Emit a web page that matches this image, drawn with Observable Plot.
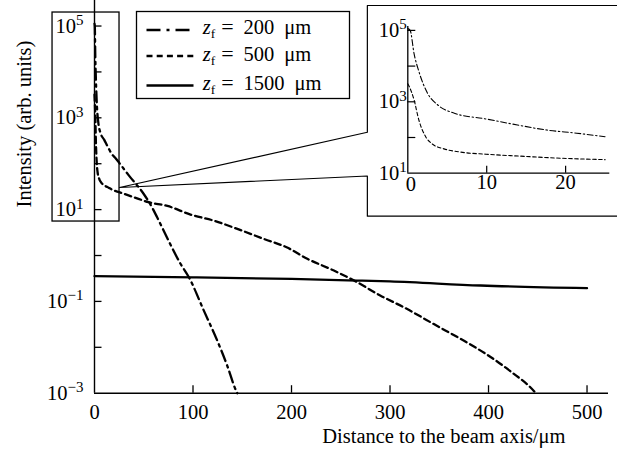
<!DOCTYPE html>
<html><head><meta charset="utf-8">
<script src="https://cdn.jsdelivr.net/npm/d3@7"></script>
<script src="https://cdn.jsdelivr.net/npm/@observablehq/plot@0.6"></script>
<style>
body{margin:0;background:#fff;}
#wrap{position:relative;width:617px;height:454px;overflow:hidden;background:#fff;font-family:"Liberation Serif",serif;}
#wrap svg{position:absolute;overflow:visible;}
</style></head><body><div id="wrap"></div>
<script>
// ---- data ----
const zfValues = ["200", "500", "1500"]; // focal positions, μm

// z_f = 200 μm (dash-dot)
const x200 = [0, 0.3, 0.8, 1.4, 2.5, 3.8, 5.9, 9.9, 13.9, 17.6, 21.4, 25, 35, 50, 58.6, 63.6, 76.6, 87.3, 95.7, 111, 124.6, 134.7, 143.6, 145];
const I200 = [1.12e5, 1.0e5, 2.2e4, 7.1e3, 1.74e3, 813, 479, 331, 224, 162, 132, 105, 55, 21.9, 11, 6.8, 1.82, 0.66, 0.34, 0.063, 0.014, 0.004, 0.00115, 0.001];

// z_f = 500 μm (dashed)
const x500 = [0, 0.2, 0.8, 1.4, 2.3, 3.1, 4.6, 6.7, 9.9, 14.3, 19.3, 25, 40, 55, 74, 97.5, 121, 145, 172, 195, 216, 243, 263.5, 290, 317, 344.5, 371.6, 399, 422.3, 446, 448];
const I500 = [3200, 2630, 1120, 309, 102, 66, 48, 39, 34, 30, 26.3, 24, 18.6, 14.5, 12, 7.8, 5.75, 3.8, 2.29, 1.51, 0.85, 0.47, 0.285, 0.135, 0.069, 0.032, 0.0153, 0.0068, 0.003, 0.00112, 0.001];

// z_f = 1500 μm (solid)
const x1500 = [0, 100, 200, 266.7, 300, 392, 500];
const I1500 = [0.355, 0.335, 0.309, 0.285, 0.272, 0.222, 0.194];

// axes
const xDomainMain = [0, 521.8];
const yDomainMain = [1e-3, 3.6e5];
const xTicksMain = [100, 200, 300, 400, 500];
const xLabelsMain = [0, 100, 200, 300, 400, 500];
const yTicksMain = [1e-2, 1e-1, 1e0, 1e1, 1e2, 1e3, 1e4, 1e5];
const yLabelsMain = [1e-3, 1e-1, 1e1, 1e3, 1e5];

const xDomainInset = [0, 25.6];
const yDomainInset = [10, 1.285e5];
const xTicksInset = [10, 20];
const xLabelsInset = [10, 20];
const xOriginLabelInset = [0];
const yTicksInset = [1e2, 1e3, 1e4, 1e5];
const yLabelsInset = [1e1, 1e3, 1e5];
const insetMaxX = 25;

// zoom box and callout (main-plot data coordinates)
const zoomBoxX = [-42.6, 25.4];
const zoomBoxY = [5.5, 1.97e5];
const calloutX = [25.4, 277, 277, 534, 534, 277, 277, 25.4];
const calloutY = [30.3, 485, 2.8e5, 2.8e5, 7.18, 7.18, 54, 30.3];

const xTitle = "Distance to the beam axis/μm";
const yTitle = "Intensity (arb. units)";

// ---- build ----
const wrap = document.getElementById("wrap");
const rows = (xs, ys) => xs.map((x, i) => ({x, y: ys[i]}));
const d200 = rows(x200, I200), d500 = rows(x500, I500), d1500 = rows(x1500, I1500);
const callout = rows(calloutX, calloutY);
const fmt = d => "10^" + Math.round(Math.log10(d));
const INK = "#000";
const FS = 20.5;

const W = 617, H = 454, ML = 94, MR = 9, MT = 0, MB = 61.3;
const FW = W - ML - MR, FH = H - MT - MB;

const main = Plot.plot({
  width: W, height: H,
  marginLeft: ML, marginRight: MR, marginTop: MT, marginBottom: MB,
  style: {fontFamily: "Liberation Serif", fontSize: FS + "px", background: "transparent", color: INK},
  x: {domain: xDomainMain},
  y: {type: "log", domain: yDomainMain},
  marks: [
    Plot.line(callout, {x: "x", y: "y", stroke: INK, strokeWidth: 1.2}),
    Plot.rect([0], {x1: () => zoomBoxX[0], x2: () => zoomBoxX[1], y1: () => zoomBoxY[0], y2: () => zoomBoxY[1], fill: "none", stroke: INK, strokeWidth: 1.3}),
    Plot.ruleX([0], {stroke: INK, strokeWidth: 1.4}),
    Plot.ruleY([yDomainMain[0]], {stroke: INK, strokeWidth: 1.4}),
    Plot.tickX(xTicksMain, {x: d => d, stroke: INK, strokeWidth: 1.3, insetTop: FH - 7.5}),
    Plot.tickY(yTicksMain, {y: d => d, stroke: INK, strokeWidth: 1.3, insetRight: FW - 7.5}),
    Plot.axisX({ticks: xLabelsMain, tickSize: 0, tickPadding: 11, label: null, fontSize: FS}),
    Plot.axisY({ticks: yLabelsMain, tickSize: 0, tickPadding: 11, tickFormat: fmt, label: null, fontSize: FS}),
    Plot.line(d200, {x: "x", y: "y", stroke: INK, strokeWidth: 2.3, strokeDasharray: "11,4.5,2.5,4.5", curve: "monotone-x"}),
    Plot.line(d500, {x: "x", y: "y", stroke: INK, strokeWidth: 2.3, strokeDasharray: "6.5,4", curve: "monotone-x"}),
    Plot.line(d1500, {x: "x", y: "y", stroke: INK, strokeWidth: 2.3, curve: "monotone-x"}),
    Plot.text([xTitle], {frameAnchor: "bottom-right", textAnchor: "end", dx: -43, dy: 49.5, fontSize: FS}),
    Plot.text([yTitle], {frameAnchor: "left", rotate: -90, textAnchor: "start", dx: -70, dy: 10.6, fontSize: FS})
  ]
});
main.style.left = "0px"; main.style.top = "0px";
wrap.appendChild(main);

// inset
const IL = 367, IT = 5, IW = 248, IH = 211;
const iML = 40.3, iMR = 5.7, iMT = 21, iMB = 43.3;
const iFW = IW - iML - iMR, iFH = IH - iMT - iMB;
const inset = Plot.plot({
  width: IW, height: IH,
  marginLeft: iML, marginRight: iMR, marginTop: iMT, marginBottom: iMB,
  style: {fontFamily: "Liberation Serif", fontSize: FS + "px", background: "transparent", color: INK},
  x: {domain: xDomainInset},
  y: {type: "log", domain: yDomainInset},
  marks: [
    Plot.ruleX([0], {stroke: INK, strokeWidth: 1.3}),
    Plot.ruleY([yDomainInset[0]], {stroke: INK, strokeWidth: 1.3}),
    Plot.tickX(xTicksInset, {x: d => d, stroke: INK, strokeWidth: 1.2, insetTop: iFH - 7}),
    Plot.tickY(yTicksInset, {y: d => d, stroke: INK, strokeWidth: 1.2, insetRight: iFW - 8}),
    Plot.axisX({ticks: xLabelsInset, tickSize: 0, tickPadding: 1.5, label: null, fontSize: FS}),
    Plot.axisX({ticks: xOriginLabelInset, tickSize: 0, tickPadding: 3, dx: 3, label: null, fontSize: FS}),
    Plot.axisY({ticks: yLabelsInset, tickSize: 0, tickPadding: 1, tickFormat: fmt, label: null, fontSize: FS}),
    Plot.line(d200.filter(d => d.x <= insetMaxX), {x: "x", y: "y", stroke: INK, strokeWidth: 1.1, strokeDasharray: "6,2.5,1.5,2.5", curve: "monotone-x"}),
    Plot.line(d500.filter(d => d.x <= insetMaxX), {x: "x", y: "y", stroke: INK, strokeWidth: 1.1, strokeDasharray: "3.5,2.5", curve: "monotone-x"})
  ]
});
inset.style.left = IL + "px"; inset.style.top = IT + "px";
wrap.appendChild(inset);

// superscript exponents in tick labels
function supers(svg) {
  d3.select(svg).selectAll("text").each(function () {
    const m = /^10\^(-?\d+)$/.exec(this.textContent);
    if (!m) return;
    const s = d3.select(this);
    s.text(null);
    s.append("tspan").text("10");
    s.append("tspan").attr("dy", -7.5).attr("font-size", 15).text(m[1].replace("-", "\u2212"));
  });
}
supers(main); supers(inset);

// legend
const legendDash = ["14,6,3,6", "6,4.2", null];
const legendLineY = [30, 56, 85.5];
const legendBase = [33.5, 60.5, 90];
const lg = d3.select(wrap).append("svg").attr("width", W).attr("height", H)
  .style("left", "0px").style("top", "0px")
  .attr("font-family", "Liberation Serif").attr("fill", INK);
lg.append("rect").attr("x", 136.5).attr("y", 11.5).attr("width", 213).attr("height", 87)
  .attr("fill", "#fff").attr("stroke", INK).attr("stroke-width", 1.3);
zfValues.forEach((v, i) => {
  const ln = lg.append("line").attr("x1", 146.5).attr("x2", 193.5)
    .attr("y1", legendLineY[i]).attr("y2", legendLineY[i])
    .attr("stroke", INK).attr("stroke-width", 2.4);
  if (legendDash[i]) ln.attr("stroke-dasharray", legendDash[i]);
  const t = lg.append("text").attr("x", 202.7).attr("y", legendBase[i]).attr("font-size", 20.5);
  t.append("tspan").attr("font-style", "italic").text("z");
  t.append("tspan").attr("font-size", 13.5).attr("dy", 4).text("f");
  t.append("tspan").attr("dy", -4).attr("dx", 6).attr("font-size", 22).text("=");
  t.append("tspan").attr("dx", 10).text(v);
  t.append("tspan").attr("dx", 10).text("μm");
});
</script></body></html>
